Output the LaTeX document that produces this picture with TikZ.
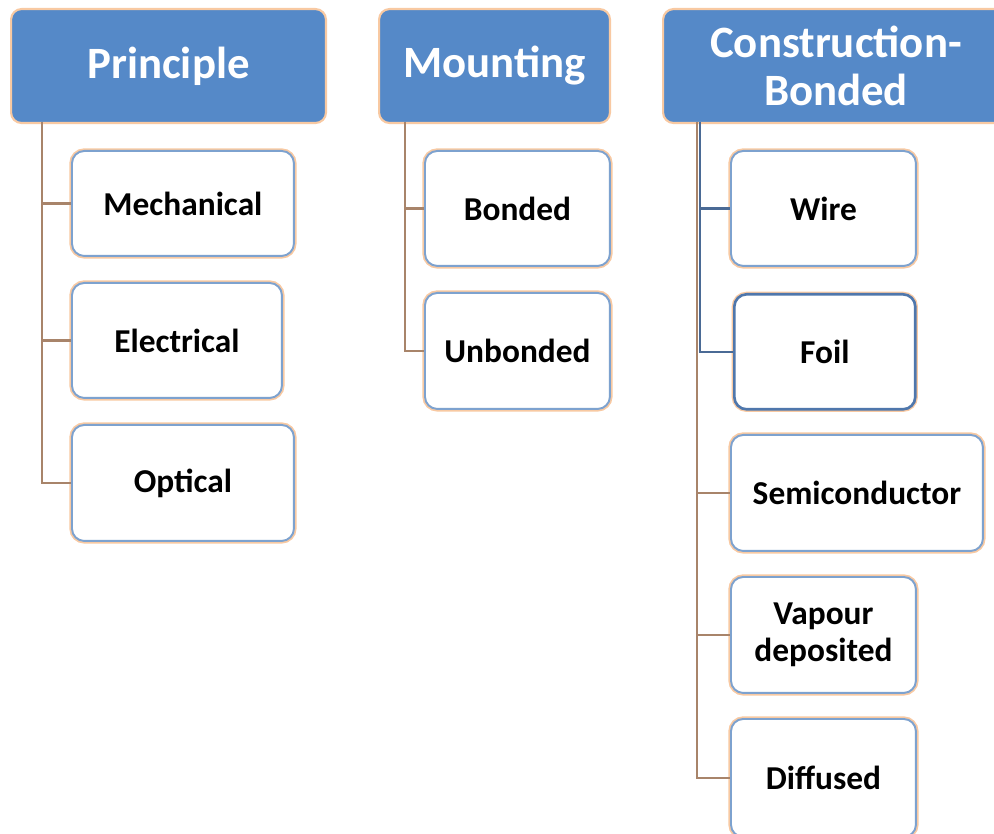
\documentclass[tikz,border=0pt]{standalone}
\usepackage{fontspec}
\setmainfont{Carlito}

\definecolor{headblue}{HTML}{5589C8}
\definecolor{halo}{HTML}{F8C9A2}
\definecolor{leafblue}{HTML}{7DA2CF}
\definecolor{foilblue}{HTML}{4F77AC}
\definecolor{linkbrown}{HTML}{A8846A}
\definecolor{linkblue}{HTML}{4A6A95}

\tikzset{
    head/.style={rounded corners=6pt, fill=headblue, draw=halo, line width=1.2pt,
        text=white, font=\bfseries\fontsize{25.5}{27}\selectfont,
        anchor=north west, align=center, inner sep=2pt},
    leaf/.style={rounded corners=7pt, fill=white, draw=leafblue, line width=1.1pt,
        preaction={draw=halo, line width=3pt},
        font=\bfseries\fontsize{19}{21}\selectfont,
        anchor=north west, align=center, inner sep=2pt},
    link/.style={draw=linkbrown, line width=1.6pt},
    linkb/.style={draw=linkblue, line width=1.4pt}
}

\begin{document}
\begin{tikzpicture}[x=0.02cm, y=-0.02cm]

    \useasboundingbox (0,0) rectangle (994,834);
    \clip (0,0) rectangle (994,834);

    % Headers
    \node[head, minimum width=6.30cm, minimum height=2.28cm] (prin) at (10,8) {Principle};
    \node[head, minimum width=4.62cm, minimum height=2.28cm] (mount) at (378,8) {Mounting};
    \node[head, minimum width=6.92cm, minimum height=2.28cm] (cons) at (662,8) {Construction-\\Bonded};

    % Principle column
    \node[leaf, minimum width=4.44cm, minimum height=2.10cm] (mech) at (71,150) {Mechanical};
    \node[leaf, minimum width=4.20cm, minimum height=2.30cm] (elec) at (71,282) {Electrical};
    \node[leaf, minimum width=4.44cm, minimum height=2.32cm] (opt) at (71,424) {Optical};

    % Mounting column
    \node[leaf, minimum width=3.70cm, minimum height=2.30cm] (bond) at (424,150) {Bonded};
    \node[leaf, minimum width=3.70cm, minimum height=2.32cm] (unb) at (424,292) {Unbonded};

    % Construction column
    \node[leaf, minimum width=3.70cm, minimum height=2.30cm] (wire) at (730,150) {Wire};
    \node[leaf, minimum width=3.62cm, minimum height=2.30cm, draw=foilblue, line width=1.5pt] (foil) at (733,293) {Foil};
    \node[leaf, minimum width=5.04cm, minimum height=2.32cm] (semi) at (730,434) {Semiconductor};
    \node[leaf, minimum width=3.70cm, minimum height=2.32cm] (vap) at (730,576) {Vapour\\deposited};
    \node[leaf, minimum width=3.70cm, minimum height=2.36cm] (diff) at (730,718) {Diffused};

    % Trunk tops under the headers
    \coordinate (ptop) at (42,122);
    \coordinate (mtop) at (405,122);
    \coordinate (ctop) at (697,122);
    \coordinate (ctopb) at (700,122);

    % Connectors
    \foreach \c in {mech,elec,opt} \draw[link] (ptop) |- (\c.west);
    \foreach \c in {bond,unb} \draw[link] (mtop) |- (\c.west);
    \foreach \c in {semi,vap,diff} \draw[link] (ctop) |- (\c.west);
    \foreach \c in {wire,foil} \draw[linkb] (ctopb) |- (\c.west);

\end{tikzpicture}
\end{document}
